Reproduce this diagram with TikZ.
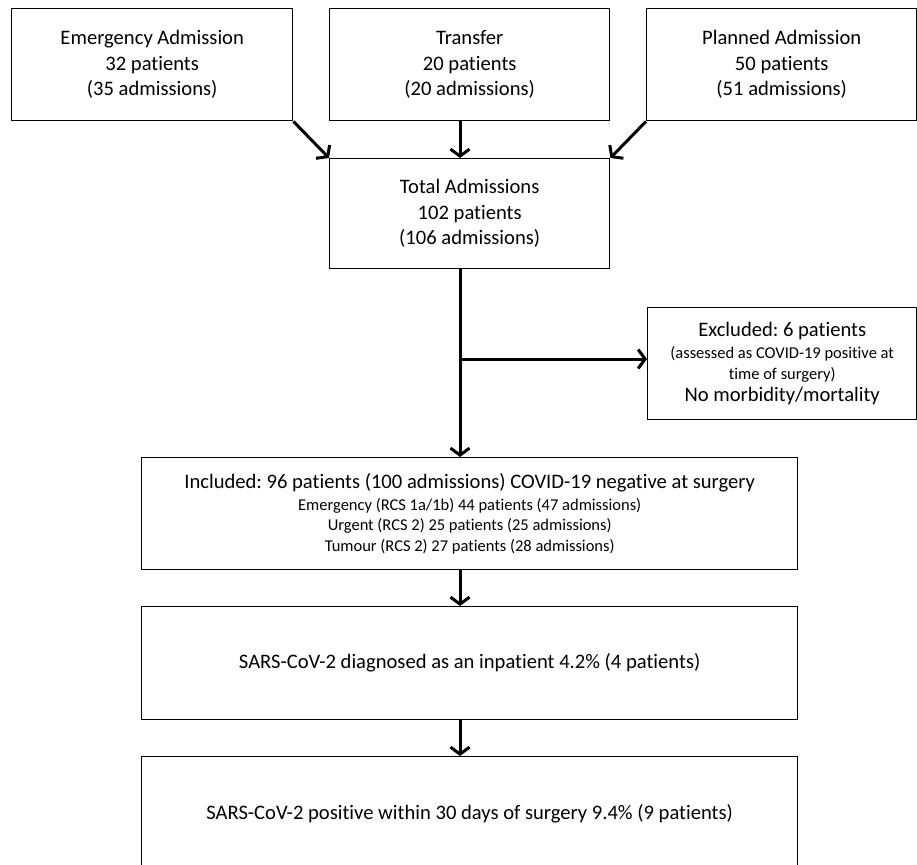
\documentclass[tikz,border=0pt]{standalone}
\usepackage{fontspec}
\setmainfont{Carlito}[Ligatures=NoCommon]
\usetikzlibrary{arrows.meta}
\frenchspacing
\newcommand{\smallln}{\fontsize{16.5}{20}\selectfont}
\begin{document}
\begin{tikzpicture}[x=1pt,y=-1pt,
 box/.style={draw, line width=1.4pt, inner sep=0pt, anchor=north west, align=center,
   font=\fontsize{20.6}{25.5}\selectfont},
 arr/.style={line width=3pt, -{Straight Barb[length=7pt,width=19pt]}}]
\useasboundingbox[fill=white] (0,0) rectangle (917,864);
\node[box, minimum width=281pt, minimum height=112pt] (em) at (11,8)
  {Emergency Admission\\32 patients\\(35 admissions)};
\node[box, minimum width=280pt, minimum height=112pt] (tr) at (329,8)
  {Transfer\\20 patients\\(20 admissions)};
\node[box, minimum width=270pt, minimum height=112pt] (pl) at (646,8)
  {Planned Admission\\50 patients\\(51 admissions)};
\node[box, minimum width=280pt, minimum height=110pt] (tot) at (329,158)
  {Total Admissions\\102 patients\\(106 admissions)};
\node[box, minimum width=269pt, minimum height=112pt] (ex) at (647,307)
  {Excluded: 6 patients\\[-3pt]{\smallln(assessed as COVID-19 positive at}\\[-5pt]{\smallln time of surgery)}\\[-3pt]No morbidity/mortality};
\node[box, minimum width=656pt, minimum height=112pt] (inc) at (141,457)
  {Included: 96 patients (100 admissions) COVID-19 negative at surgery\\[-4pt]
   {\smallln Emergency (RCS 1a/1b) 44 patients (47 admissions)}\\[-5pt]
   {\smallln Urgent (RCS 2) 25 patients (25 admissions)}\\[-5pt]
   {\smallln Tumour (RCS 2) 27 patients (28 admissions)}};
\node[box, minimum width=656pt, minimum height=113pt] (s1) at (141,606)
  {SARS-CoV-2 diagnosed as an inpatient 4.2\% (4 patients)};
\node[box, minimum width=656pt, minimum height=114pt] (s2) at (141,756)
  {SARS-CoV-2 positive within 30 days of surgery 9.4\% (9 patients)};
\coordinate (col) at (460,0);
\coordinate (br) at (460,359);
\draw[arr] (em.south east) -- (tot.north west);
\draw[arr] (tr.south -| col) -- (tot.north -| col);
\draw[arr] (pl.south west) -- (tot.north east);
\draw[arr] (tot.south -| col) -- (inc.north -| col);
\draw[arr] (br) -- (br -| ex.west);
\draw[arr] (inc.south -| col) -- (s1.north -| col);
\draw[arr] (s1.south -| col) -- (s2.north -| col);
\end{tikzpicture}
\end{document}
